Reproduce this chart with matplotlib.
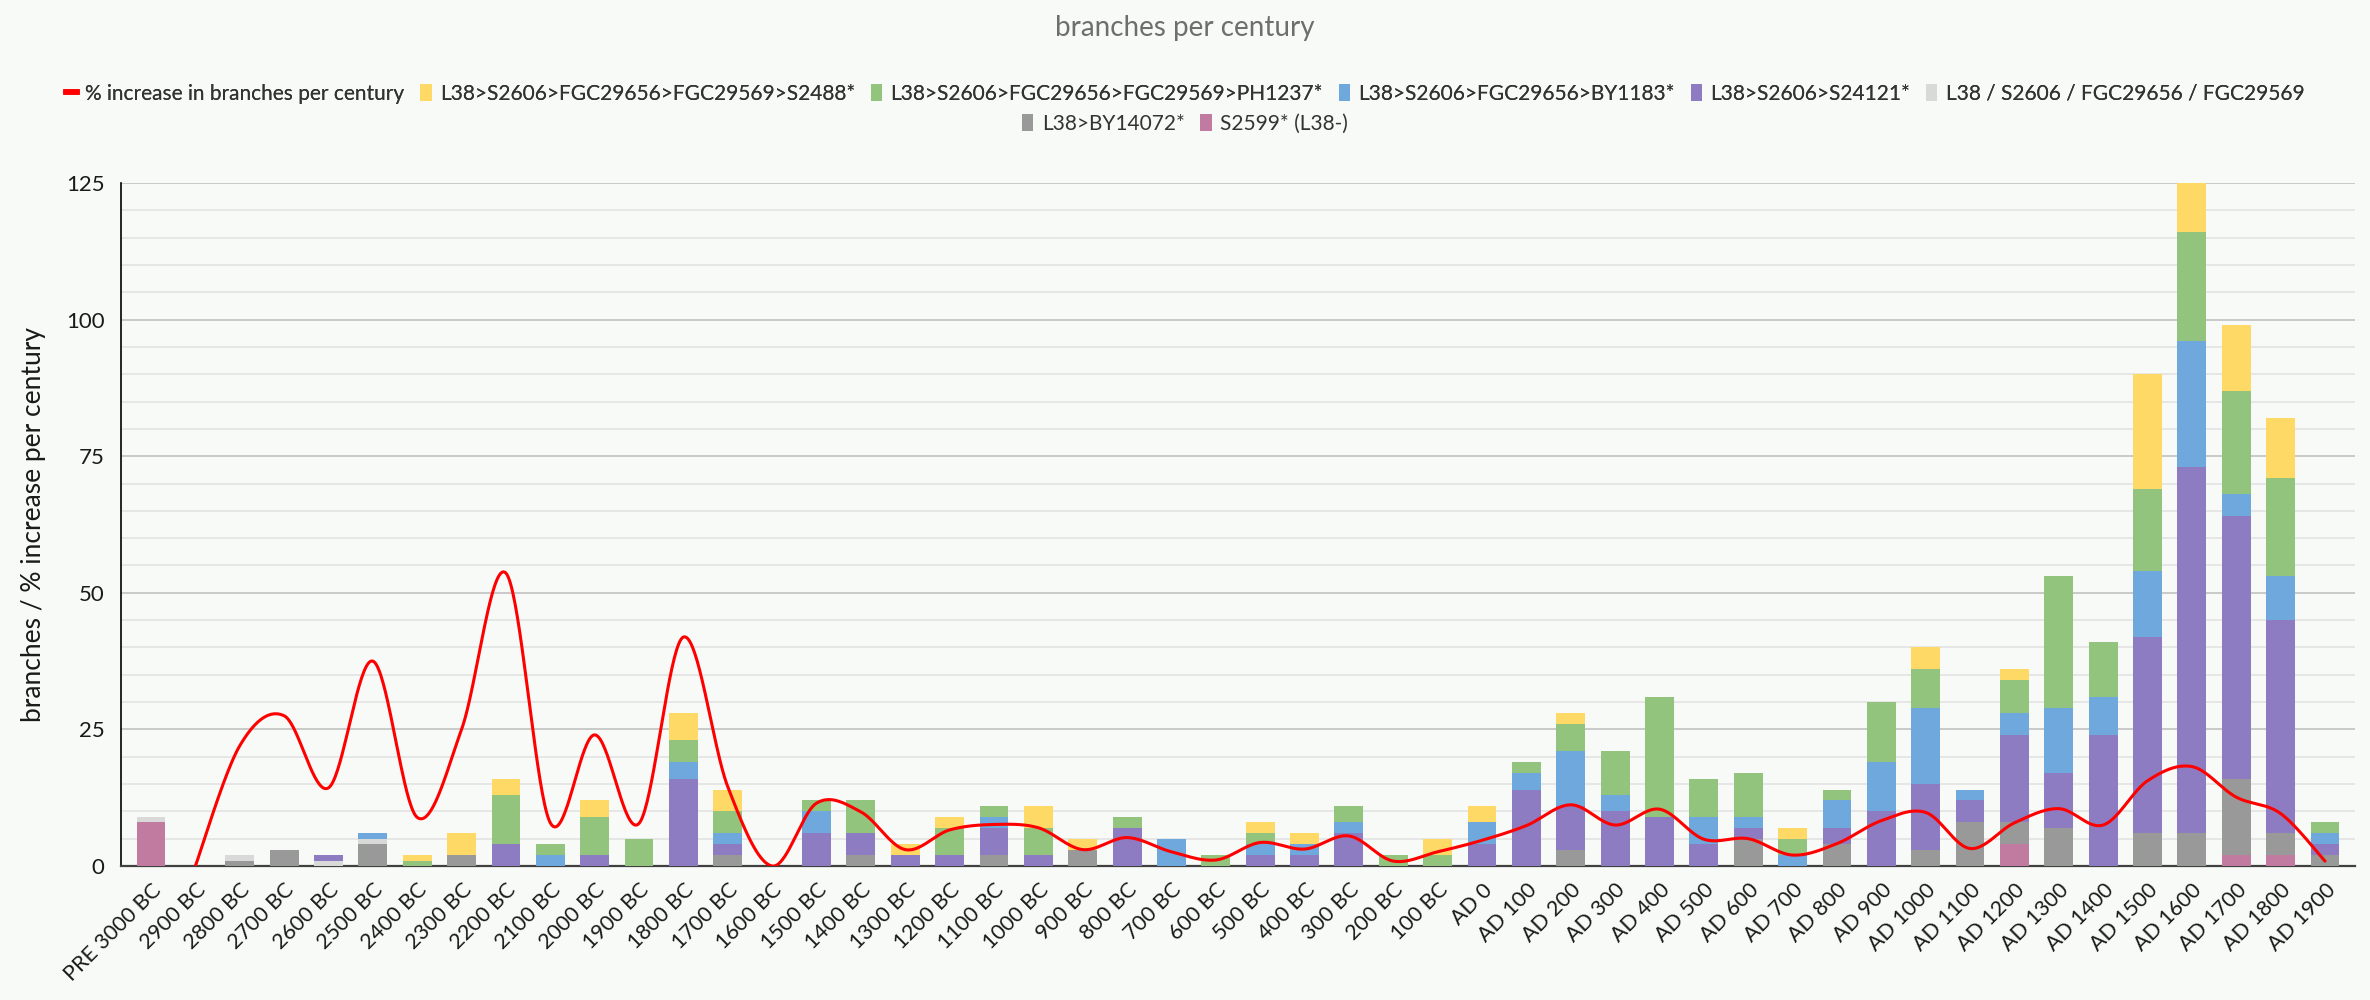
import numpy as np
import matplotlib
matplotlib.use("Agg")
import matplotlib.pyplot as plt
from matplotlib.patches import Patch
from matplotlib.lines import Line2D

plt.rcParams['font.family'] = ['Lato', 'DejaVu Sans']

categories = ['PRE 3000 BC', '2900 BC', '2800 BC', '2700 BC', '2600 BC', '2500 BC', '2400 BC',
              '2300 BC', '2200 BC', '2100 BC', '2000 BC', '1900 BC', '1800 BC', '1700 BC',
              '1600 BC', '1500 BC', '1400 BC', '1300 BC', '1200 BC', '1100 BC', '1000 BC',
              '900 BC', '800 BC', '700 BC', '600 BC', '500 BC', '400 BC', '300 BC', '200 BC',
              '100 BC', 'AD 0', 'AD 100', 'AD 200', 'AD 300', 'AD 400', 'AD 500', 'AD 600',
              'AD 700', 'AD 800', 'AD 900', 'AD 1000', 'AD 1100', 'AD 1200', 'AD 1300',
              'AD 1400', 'AD 1500', 'AD 1600', 'AD 1700', 'AD 1800', 'AD 1900']

s2599 =    [8, 0, 0, 0, 0, 0, 0, 0, 0, 0, 0, 0, 0, 0, 0, 0, 0, 0, 0, 0, 0, 0, 0, 0, 0, 0, 0, 0, 0, 0, 0, 0, 0, 0, 0, 0, 0, 0, 0, 0, 0, 0, 4, 0, 0, 0, 0, 2, 2, 0]
by14072 =  [0, 0, 1, 3, 0, 4, 0, 2, 0, 0, 0, 0, 0, 2, 0, 0, 2, 0, 0, 2, 0, 3, 0, 0, 0, 0, 0, 0, 0, 0, 0, 0, 3, 0, 0, 0, 5, 0, 4, 0, 3, 8, 4, 7, 0, 6, 6, 14, 4, 2]
l38_base = [1, 0, 1, 0, 1, 1, 0, 0, 0, 0, 0, 0, 0, 0, 0, 0, 0, 0, 0, 0, 0, 0, 0, 0, 0, 0, 0, 0, 0, 0, 0, 0, 0, 0, 0, 0, 0, 0, 0, 0, 0, 0, 0, 0, 0, 0, 0, 0, 0, 0]
s24121 =   [0, 0, 0, 0, 1, 0, 0, 0, 4, 0, 2, 0, 16, 2, 0, 6, 4, 2, 2, 5, 2, 0, 7, 0, 0, 2, 2, 6, 0, 0, 4, 14, 8, 10, 9, 4, 2, 0, 3, 10, 12, 4, 16, 10, 24, 36, 67, 48, 39, 2]
by1183 =   [0, 0, 0, 0, 0, 1, 0, 0, 0, 2, 0, 0, 3, 2, 0, 4, 0, 0, 0, 2, 0, 0, 0, 5, 0, 2, 2, 2, 0, 0, 4, 3, 10, 3, 0, 5, 2, 2, 5, 9, 14, 2, 4, 12, 7, 12, 23, 4, 8, 2]
ph1237 =   [0, 0, 0, 0, 0, 0, 1, 0, 9, 2, 7, 5, 4, 4, 0, 2, 6, 0, 5, 2, 5, 0, 2, 0, 2, 2, 0, 3, 2, 2, 0, 2, 5, 8, 22, 7, 8, 3, 2, 11, 7, 0, 6, 24, 10, 15, 20, 19, 18, 2]
s2488 =    [0, 0, 0, 0, 0, 0, 1, 4, 3, 0, 3, 0, 5, 4, 0, 0, 0, 2, 2, 0, 4, 2, 0, 0, 0, 2, 2, 0, 0, 3, 3, 0, 2, 0, 0, 0, 0, 2, 0, 0, 4, 0, 2, 0, 0, 21, 9, 12, 11, 0]

pct_increase = [np.nan, 0, 22, 27.5, 14.3, 37.5, 8.9, 25, 53.6, 7.9, 24, 7.8, 41.9, 14.5, 0,
                11.5, 9.9, 3, 6.6, 7.6, 7, 3, 5.2, 2.6, 1.1, 4.3, 3.1, 5.5, 0.9, 2.6,
                4.7, 7.4, 11.2, 7.5, 10.4, 4.9, 5.0, 2.0, 4.1, 8.3, 9.8, 3.2, 7.9, 10.5,
                7.5, 15.6, 18.2, 12.6, 9.6, 0.9]

series_names = ['S2599* (L38-)', 'L38>BY14072*', 'L38 / S2606 / FGC29656 / FGC29569',
                'L38>S2606>S24121*', 'L38>S2606>FGC29656>BY1183*',
                'L38>S2606>FGC29656>FGC29569>PH1237*', 'L38>S2606>FGC29656>FGC29569>S2488*']
series_vals = [s2599, by14072, l38_base, s24121, by1183, ph1237, s2488]
series_colors = ['#C27BA0', '#999999', '#D9D9D9', '#8E7CC3', '#6FA8DC', '#93C47D', '#FFD966']
line_name = '% increase in branches per century'

BG = '#F8FAF7'

fig = plt.figure(figsize=(23.7, 10), dpi=100, facecolor=BG)
ax = fig.add_axes([121/2370, 1-866/1000, (2355-121)/2370, (866-183)/1000])
ax.set_facecolor(BG)

x = np.arange(len(categories))
bottom = np.zeros(len(categories))
for name, vals, col in zip(series_names, series_vals, series_colors):
    v = np.array(vals, dtype=float)
    ax.bar(x, v, bottom=bottom, width=0.65, color=col, zorder=3, linewidth=0)
    bottom += v

# smoothed line (Catmull-Rom style bezier, like Excel smoothing)
def smooth(xs, ys, n=40):
    P = np.column_stack([xs, ys])
    out = []
    for i in range(len(P) - 1):
        p0 = P[i - 1] if i > 0 else P[i]
        p1 = P[i]
        p2 = P[i + 1]
        p3 = P[i + 2] if i + 2 < len(P) else P[i + 1]
        c1 = p1 + (p2 - p0) / 6.0
        c2 = p2 - (p3 - p1) / 6.0
        t = np.linspace(0, 1, n)[:, None]
        seg = ((1 - t) ** 3) * p1 + 3 * ((1 - t) ** 2) * t * c1 + 3 * (1 - t) * t ** 2 * c2 + t ** 3 * p2
        out.append(seg if i == 0 else seg[1:])
    return np.vstack(out)

pv = np.array(pct_increase, dtype=float)
mask = ~np.isnan(pv)
curve = smooth(x[mask].astype(float), pv[mask])
ax.plot(curve[:, 0], curve[:, 1], color='#FF0000', lw=2.2, zorder=5, solid_capstyle='round')

ax.set_xlim(-0.676, 49.676)
ax.set_ylim(0, 125)
ax.set_yticks(np.arange(0, 126, 25))
ax.set_yticks(np.arange(0, 126, 5), minor=True)
ax.grid(which='minor', axis='y', color='#E3E3E3', lw=1.2, zorder=0)
ax.grid(which='major', axis='y', color='#C9C9C9', lw=1.4, zorder=0)
ax.set_axisbelow(True)
ax.set_xticks(x)
ax.set_xticklabels(categories, rotation=45, ha='right', rotation_mode='anchor', fontsize=15.5, color='#1A1A1A')
ax.tick_params(axis='x', length=0, pad=10)
ax.tick_params(axis='y', which='both', length=0, pad=12, labelsize=16, labelcolor='#1A1A1A')
for s in ['top', 'right']:
    ax.spines[s].set_visible(False)
ax.spines['left'].set_color('#000000')
ax.spines['left'].set_linewidth(1.2)
ax.spines['bottom'].set_color('#404040')
ax.spines['bottom'].set_linewidth(1.6)
ax.set_ylabel('branches / % increase per century', fontsize=19, color='#1A1A1A', labelpad=14)

fig.text(0.5, 1 - 28/1000, 'branches per century', ha='center', va='center', fontsize=20, color='#6E6E6E')

# legend: two rows
h_line = Line2D([0], [0], color='#FF0000', lw=4)
order1 = [6, 5, 4, 3, 2]
handles1 = [h_line] + [Patch(facecolor=series_colors[i], edgecolor='none') for i in order1]
labels1 = [line_name] + [series_names[i] for i in order1]
leg1 = fig.legend(handles1, labels1, loc='center', bbox_to_anchor=(0.5, 1 - 94/1000), ncol=6,
                  frameon=False, fontsize=15, handlelength=0.55, handleheight=0.85,
                  columnspacing=0.75, handletextpad=0.4, labelcolor='#333333')
order2 = [1, 0]
handles2 = [Patch(facecolor=series_colors[i], edgecolor='none') for i in order2]
labels2 = [series_names[i] for i in order2]
leg2 = fig.legend(handles2, labels2, loc='center', bbox_to_anchor=(0.5, 1 - 124/1000), ncol=2,
                  frameon=False, fontsize=15, handlelength=0.55, handleheight=0.85,
                  columnspacing=0.75, handletextpad=0.4, labelcolor='#333333')
fig.add_artist(leg1)

fig.savefig('out.png', dpi=100, facecolor=BG)
